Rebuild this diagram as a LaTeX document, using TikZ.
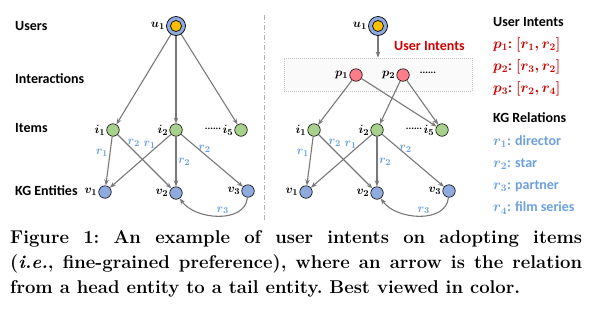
\documentclass[tikz,border=0pt]{standalone}
\usepackage{fontspec}
\newfontfamily\labelfont{Carlito}
\usetikzlibrary{arrows.meta, positioning, calc}

\definecolor{ringblue}{RGB}{143,170,220}
\definecolor{useryellow}{RGB}{255,192,0}
\definecolor{itemgreen}{RGB}{169,209,142}
\definecolor{entityblue}{RGB}{143,170,220}
\definecolor{intentpink}{RGB}{255,124,138}
\definecolor{edgegray}{RGB}{120,120,120}
\definecolor{relblue}{RGB}{108,160,222}
\definecolor{intentred}{RGB}{204,0,0}

\begin{document}
\begin{tikzpicture}[x=1pt, y=-1pt,
    user/.style={circle, draw=black, line width=0.7pt, fill=ringblue, minimum size=19pt, inner sep=0pt,
      path picture={\draw[fill=useryellow, line width=0.7pt] (path picture bounding box.center) circle (5.5pt);}},
    dotnode/.style={circle, draw=black, line width=0.6pt, minimum size=12.5pt, inner sep=0pt},
    item/.style={dotnode, fill=itemgreen},
    entity/.style={dotnode, fill=entityblue},
    intent/.style={dotnode, fill=intentpink},
    sym/.style={font=\boldmath\fontsize{12.5}{12.5}\selectfont, inner sep=1pt},
    rel/.style={font=\boldmath\fontsize{13}{13}\selectfont, text=relblue, inner sep=1.5pt},
    more/.style={font=\labelfont\bfseries\fontsize{10}{10}\selectfont, inner sep=0pt},
    link/.style={draw=edgegray, line width=1.1pt, -{Stealth[length=6pt, width=4.5pt]}},
    rowname/.style={font=\labelfont\bfseries\fontsize{14}{16}\selectfont, anchor=west, inner sep=0pt},
    legend/.style={rowname, font=\labelfont\bfseries\boldmath\fontsize{14}{16}\selectfont},
    capline/.style={font=\bfseries\frenchspacing\fontsize{18.5}{25}\selectfont, anchor=base west, inner sep=0pt},
    divider/.style={draw=gray!60, line width=0.8pt, dash pattern=on 5pt off 2pt on 1pt off 2pt},
    intentbox/.style={draw=gray!45, fill=gray!4, line width=0.8pt, dash pattern=on 1pt off 1pt,
      minimum width=188pt, minimum height=33pt, inner sep=0pt}
  ]
    \useasboundingbox (0,0) rectangle (591,317);

    % Row names
    \node[rowname] (users) at (15,26) {Users};
    \node[rowname] (interactions) at (15,79) {Interactions};
    \node[rowname] (items) at (15,128) {Items};
    \node[rowname] (entities) at (15,191) {KG Entities};

    % Divider between the two panels
    \draw[divider] (264,15) -- (264,222);

    % Items, KG entities and relations (same in both panels)
    \foreach \s/\dx in {L/0pt, R/201pt} {
      \begin{scope}[xshift=\dx]
        \node[item, label={[sym]left:$i_1$}] (i1\s) at (113,130) {};
        \node[item, label={[sym]left:$i_2$}] (i2\s) at (176,130) {};
        \node[item, label={[sym]left:$i_5$}] (i5\s) at (241,130) {};
        \node[more] (more\s) at (213,129) {......};
        \node[entity, label={[sym]left:$v_1$}] (v1\s) at (105,192) {};
        \node[entity, label={[sym]left:$v_2$}] (v2\s) at (176,193) {};
        \node[entity, label={[sym]left:$v_3$}] (v3\s) at (248,191) {};

        \draw[link] (i1\s) -- node[rel, pos=0.34, left] {$r_1$} (v1\s);
        \draw[link] (i1\s) -- node[rel, pos=0.15, right] {$r_2$} (v2\s);
        \draw[link] (i2\s) -- node[rel, pos=0.2, left, xshift=-1pt] {$r_1$} (v1\s);
        \draw[link] (i2\s) -- node[rel, pos=0.5, right] {$r_2$} (v2\s);
        \draw[link] (i2\s) -- node[rel, pos=0.38, above] {$r_2$} (v3\s);
        \draw[link] (v3\s) to[out=-95, in=-55] node[rel, pos=0.45, above] {$r_3$} (v2\s);
      \end{scope}
    }

    % Left panel: user interacts with items
    \node[user, label={[sym]left:$u_1$}] (u1L) at (176,26) {};
    \foreach \t in {i1L, i2L, i5L}
      \draw[link] (u1L) -- (\t);

    % Right panel: user -> intents -> items
    \node[intentbox] (intents) at (378,74.5) {};
    \node[user, label={[sym]left:$u_1$}] (u1R) at (378,26) {};
    \node[rowname, text=intentred] (intentname) at (394,46) {User Intents};
    \node[intent, label={[sym]left:$p_1$}] (p1) at (356,75) {};
    \node[intent, label={[sym]left:$p_2$}] (p2) at (403,75) {};
    \node[more] (morep) at (428,73) {......};
    \draw[link] (u1R) -- (intents);
    \draw[link] (p1) -- (i1R);
    \draw[link] (p1) -- (i5R);
    \draw[link] (p2) -- (i2R);
    \draw[link] (p2) -- (i5R);

    % Legend
    \node[rowname] (intenthead) at (493,22) {User Intents};
    \node[legend, text=intentred] (key1) at (493,45) {$p_1$: $[r_1, r_2]$};
    \node[legend, text=intentred] (key2) at (493,67) {$p_2$: $[r_3, r_2]$};
    \node[legend, text=intentred] (key3) at (493,89) {$p_3$: $[r_2, r_4]$};
    \node[rowname] (relhead) at (493,118) {KG Relations};
    \node[legend, text=relblue] (rel1) at (493,142) {$r_1$: director};
    \node[legend, text=relblue] (rel2) at (493,164) {$r_2$: star};
    \node[legend, text=relblue] (rel3) at (493,186) {$r_3$: partner};
    \node[legend, text=relblue] (rel4) at (493,208) {$r_4$: film series};

    % Caption
    \node[capline] (cap1) at (10,243) {\makebox[572pt][s]{Figure 1: An example of user intents on adopting items}};
    \node[capline] (cap2) at (10,268) {\makebox[572pt][s]{(\textit{i.e.}, fine-grained preference), where an arrow is the relation}};
    \node[capline] (cap3) at (10,293) {from a head entity to a tail entity. Best viewed in color.};
  \end{tikzpicture}
\end{document}
